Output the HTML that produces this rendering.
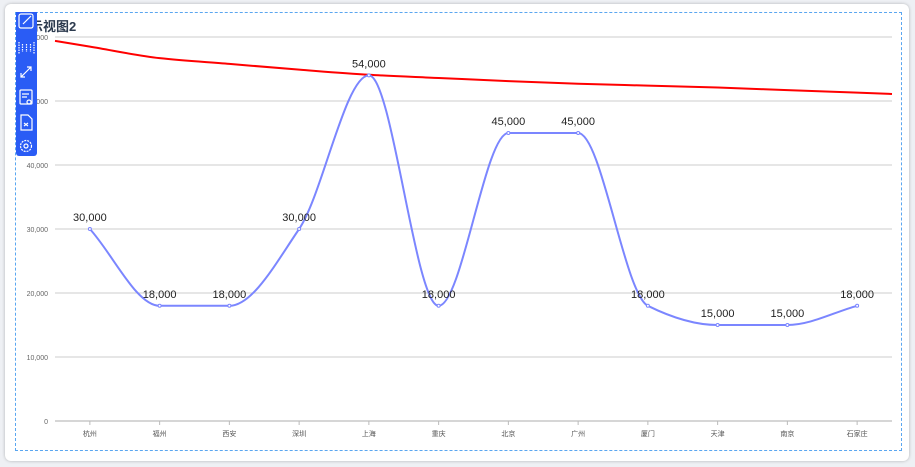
<!DOCTYPE html>
<html><head><meta charset="utf-8"><style>
html,body{margin:0;padding:0;background:#eef0f4;width:915px;height:467px;overflow:hidden;font-family:"Liberation Sans","Noto Sans CJK SC",sans-serif}
#card{position:absolute;left:5px;top:4px;width:904px;height:457px;background:#fff;border-radius:6px;box-shadow:0 0 3px rgba(0,0,0,.25)}
#frame{position:absolute;left:15px;top:12px;width:887px;height:439px;border:1px dashed #5aa6f0;box-sizing:border-box}
#title{position:absolute;left:30px;top:16px;font-size:13px;font-weight:bold;color:#2c3a4e}
#toolbar{position:absolute;left:16px;top:12px;width:21px;height:144px;background:#2a5cf5;border-radius:0 0 3px 3px}
svg{position:absolute;left:0;top:0}
</style></head><body>
<div id="card"></div>
<div id="frame"></div>
<div id="title">示视图2</div>
<svg id="chart" width="915" height="467"></svg>
<div id="toolbar">
<svg width="21" height="144" style="position:absolute;left:0;top:0" fill="none" stroke="#fff" stroke-width="1.2">
<g><rect x="3" y="2" width="14" height="14" rx="2"/><path d="M7 12 L15 4"/></g>
<g><path d="M3 30v12M18 30v12M6.5 32v8M10.5 32v8M14.5 32v8" stroke-dasharray="1.5 1"/></g>
<g><path d="M5 65l10-10M11 55h4v4M5 61v4h4"/></g>
<g><rect x="4" y="78" width="12" height="14" rx="1"/><path d="M6 82h7M6 85h5"/><circle cx="13" cy="90" r="2"/></g>
<g><path d="M5 103h7l4 4v11H5z"/><path d="M8 111l4 3M12 111l-4 3"/></g>
<g><circle cx="10" cy="134" r="5.5" stroke-dasharray="2 1"/><circle cx="10" cy="134" r="2"/></g>
</svg></div>
<script>
const categories=["杭州","福州","西安","深圳","上海","重庆","北京","广州","厦门","天津","南京","石家庄"];
const values=[30000,18000,18000,30000,54000,18000,45000,45000,18000,15000,15000,18000];
const trend=[58500,56700,55800,54900,54100,53600,53100,52700,52400,52100,51700,51300];
const yTicks=[0,10000,20000,30000,40000,50000,60000];
const yTickLabels=["0","10,000","20,000","30,000","40,000","50,000","60,000"];
const L=55,R=892,T=37,B=421,yMax=60000;
const bw=(R-L)/categories.length;
const x=i=>L+bw*(i+0.5);
const y=v=>B-(v/yMax)*(B-T);
const svg=document.getElementById('chart');
const NS='http://www.w3.org/2000/svg';
function mk(t,a){const e=document.createElementNS(NS,t);for(const k in a)e.setAttribute(k,a[k]);svg.appendChild(e);return e;}
yTicks.forEach((v,i)=>{
 const g=mk('line',{x1:L,x2:R,y1:y(v),y2:y(v),stroke:i==0?'#c8c8c8':'#cccccc','stroke-width':i==0?1.5:1});
 
 
 const t=mk('text',{x:48,y:y(v)+3,'text-anchor':'end','font-size':7,fill:'#666'});t.textContent=yTickLabels[i];
 
 
});
categories.forEach((c,i)=>{
 const tk=mk('line',{x1:x(i),x2:x(i),y1:B,y2:B+4,stroke:'#bbb'});
 
 
 const t=mk('text',{x:x(i),y:436,'text-anchor':'middle','font-size':7,fill:'#555'});t.textContent=c;
 
 
});
function monotone(pts){
 const n=pts.length,d=[],m=[];
 for(let i=0;i<n-1;i++)d.push((pts[i+1][1]-pts[i][1])/(pts[i+1][0]-pts[i][0]));
 for(let i=0;i<n;i++){
  if(i==0)m.push(d[0]);else if(i==n-1)m.push(d[n-2]);
  else m.push(d[i-1]*d[i]<=0?0:2/(1/d[i-1]+1/d[i]));
 }
 let s='M'+pts[0][0]+','+pts[0][1];
 for(let i=0;i<n-1;i++){const h=(pts[i+1][0]-pts[i][0])/3;
  s+=' C'+(pts[i][0]+h)+','+(pts[i][1]+m[i]*h)+' '+(pts[i+1][0]-h)+','+(pts[i+1][1]-m[i+1]*h)+' '+pts[i+1][0]+','+pts[i+1][1];}
 return s;
}
const tp=trend.map((v,i)=>[x(i),y(v)]);
const n=trend.length;
const first=[L,tp[0][1]-(tp[1][1]-tp[0][1])*(x(0)-L)/bw];
const last=[R,tp[n-1][1]+(tp[n-1][1]-tp[n-2][1])*(R-x(n-1))/bw];
const tl=mk('path',{d:monotone([first,...tp,last]),fill:'none',stroke:'#ff0000','stroke-width':2});


const pts=values.map((v,i)=>[x(i),y(v)]);
const ln=mk('path',{d:monotone(pts),fill:'none',stroke:'#7b86ff','stroke-width':2});


values.forEach((v,i)=>{
 const c=mk('circle',{cx:x(i),cy:y(v),r:1.5,fill:'#fff',stroke:'#7b86ff'});
 
 
 const t=mk('text',{x:x(i),y:y(v)-8,'text-anchor':'middle','font-size':11,fill:'#222'});
 t.textContent=v.toLocaleString('en-US');
 
 
});
</script>
</body></html>
